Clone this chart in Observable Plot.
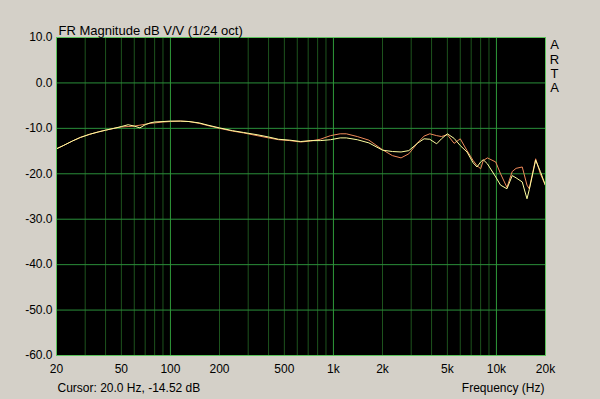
<!DOCTYPE html>
<html>
<head>
<meta charset="utf-8">
<script src="https://cdn.jsdelivr.net/npm/d3@7"></script>
<script src="https://cdn.jsdelivr.net/npm/@observablehq/plot@0.6"></script>
<style>
  html, body { margin: 0; padding: 0; background: #d4d0c8; }
  #chart svg { display: block; }
</style>
</head>
<body>
<div id="chart"></div>
<script>
// Frequencies (Hz)
const freqs = [20, 22, 25, 28, 32, 36, 40, 45, 50, 55, 60, 65, 70, 75, 80, 90, 100, 115, 130, 150, 170, 200, 240, 280, 340, 400, 460, 540, 630, 720, 830, 960, 1100, 1200, 1400, 1650, 2000, 2300, 2600, 2900, 3300, 3600, 3900, 4300, 4600, 5000, 5500, 6000, 6600, 7200, 7600, 8000, 8300, 8800, 9900, 10600, 11600, 12500, 13200, 14400, 15400, 15900, 17400, 18600, 20000];
// Yellow trace (dB)
const traceYellow = [-14.5, -13.8, -12.8, -12.0, -11.3, -10.8, -10.4, -10.0, -9.6, -9.2, -9.5, -9.9, -9.2, -8.8, -8.6, -8.5, -8.4, -8.4, -8.5, -8.8, -9.3, -9.9, -10.5, -10.9, -11.4, -11.9, -12.4, -12.6, -12.9, -12.7, -12.7, -12.5, -12.1, -12.1, -12.5, -13.2, -14.8, -15.1, -15.2, -14.9, -13.2, -12.3, -12.4, -13.4, -12.3, -11.2, -12.2, -13.8, -15.2, -17.6, -18.5, -17.4, -16.9, -17.8, -20.7, -22.5, -23.3, -20.4, -20.9, -21.8, -25.5, -23.5, -17.0, -19.5, -22.6];
// Orange trace (dB)
const traceOrange = [-14.5, -13.8, -12.8, -12.0, -11.3, -10.8, -10.4, -10.0, -9.7, -9.6, -9.5, -9.3, -9.1, -8.9, -8.8, -8.6, -8.5, -8.4, -8.5, -8.9, -9.4, -10.0, -10.6, -11.0, -11.6, -12.1, -12.5, -12.7, -13.0, -12.8, -12.4, -11.6, -11.2, -11.2, -11.8, -12.6, -14.7, -16.0, -16.5, -15.6, -13.1, -11.7, -11.2, -11.6, -11.8, -11.4, -13.3, -12.3, -14.9, -17.1, -18.2, -18.9, -17.1, -16.5, -17.4, -20.0, -23.0, -19.5, -18.8, -18.5, -22.5, -23.3, -16.7, -20.0, -22.6];

const yTicks = [10, 0, -10, -20, -30, -40, -50, -60];
const xTicks = [20, 50, 100, 200, 500, 1000, 2000, 5000, 10000, 20000];
const xTickLabels = ["20", "50", "100", "200", "500", "1k", "2k", "5k", "10k", "20k"];
const minorGrid = [30, 40, 50, 60, 70, 80, 90, 200, 300, 400, 500, 600, 700, 800, 900, 2000, 3000, 4000, 5000, 6000, 7000, 8000, 9000];
const majorGrid = [100, 1000, 10000];

const title = "FR Magnitude dB V/V (1/24 oct)";
const cursorText = "Cursor: 20.0 Hz, -14.52 dB";
const xLabel = "Frequency (Hz)";
const brand = ["A", "R", "T", "A"];

const yellowData = freqs.map((f, i) => ({f, v: traceYellow[i]}));
const orangeData = freqs.map((f, i) => ({f, v: traceOrange[i]}));

const font = "'Liberation Sans', Arial, sans-serif";

const chart = Plot.plot({
  width: 600,
  height: 399,
  marginLeft: 56,
  marginRight: 55,
  marginTop: 37,
  marginBottom: 44,
  style: {background: "#d4d0c8", fontFamily: font, fontSize: "12px", color: "#000"},
  x: {type: "log", domain: [20, 20000], axis: null},
  y: {domain: [-60, 10], axis: null},
  marks: [
    Plot.frame({fill: "#000000", stroke: "none"}),
    Plot.ruleX(minorGrid, {stroke: "#1d531d", strokeWidth: 1}),
    Plot.ruleY(yTicks, {stroke: "#2a8f3a", strokeWidth: 1}),
    Plot.ruleX(majorGrid, {stroke: "#2f9a3a", strokeWidth: 1}),
    Plot.line(orangeData, {x: "f", y: "v", stroke: "#f08a5a", strokeWidth: 1}),
    Plot.line(yellowData, {x: "f", y: "v", stroke: "#ffffa0", strokeWidth: 1}),
    Plot.frame({stroke: "#5cc45c", strokeWidth: 1}),
    Plot.text(yTicks, {x: 20, y: d => d, text: d => d.toFixed(1), textAnchor: "end", dx: -4, fill: "#000", fontSize: 12}),
    Plot.text(xTicks, {x: d => d, y: -60, text: (d, i) => xTickLabels[i], dy: 14, fill: "#000", fontSize: 12}),
    Plot.text([title], {frameAnchor: "top-left", dx: 2, dy: -12, textAnchor: "start", fill: "#000", fontSize: 13}),
    Plot.text([cursorText], {frameAnchor: "bottom-left", dx: 1, dy: 36, textAnchor: "start", fill: "#000", fontSize: 12}),
    Plot.text([xLabel], {frameAnchor: "bottom-right", dx: -1, dy: 36, textAnchor: "end", fill: "#000", fontSize: 12}),
    Plot.text([brand.join("\n")], {frameAnchor: "top-right", dx: 9, dy: 2, lineAnchor: "top", lineHeight: 1.08, fill: "#000", fontSize: 13, textAnchor: "middle"})
  ]
});

document.getElementById("chart").appendChild(chart);
</script>
</body>
</html>
